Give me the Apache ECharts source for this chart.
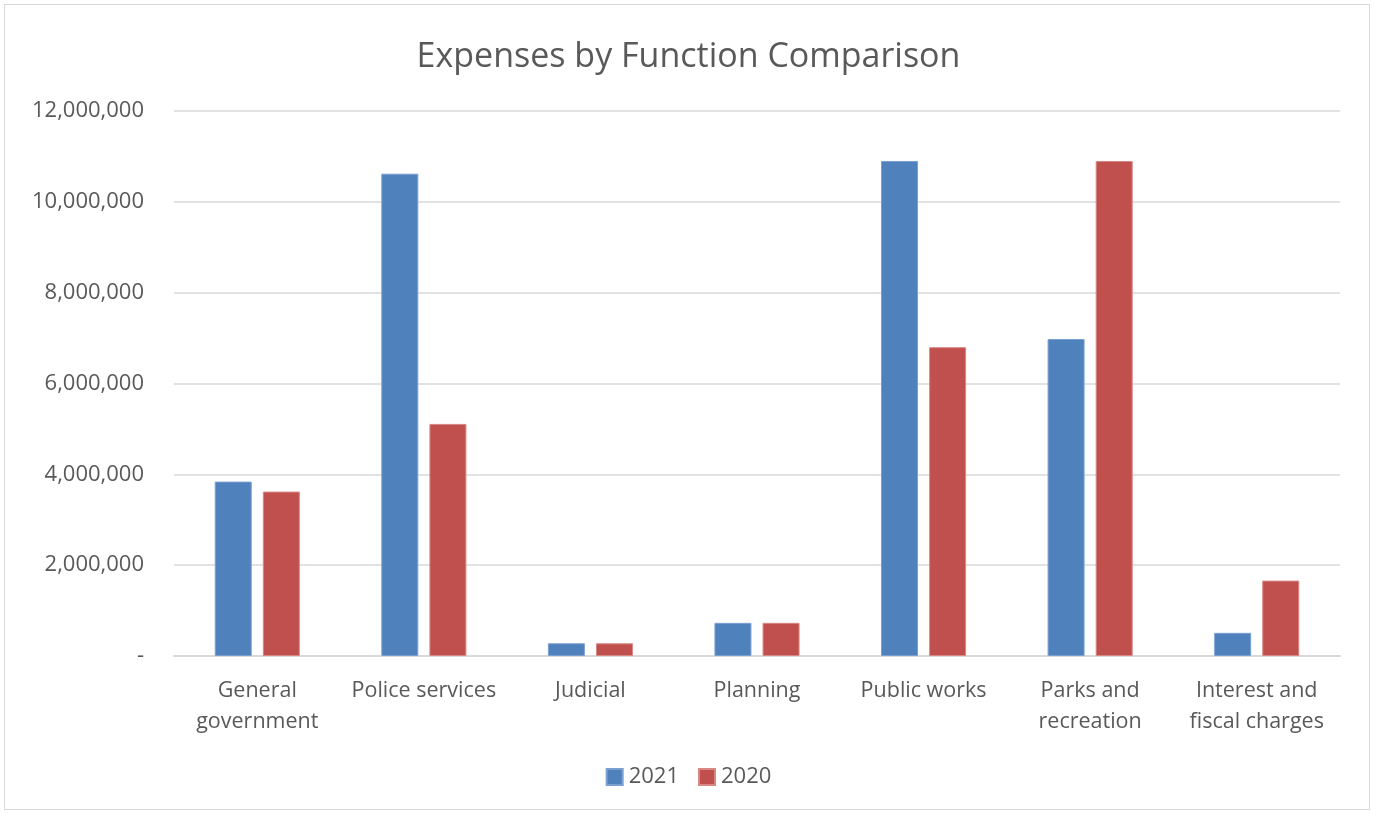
<!DOCTYPE html>
<html>
<head>
<meta charset="utf-8">
<script src="https://cdn.jsdelivr.net/npm/echarts@6/dist/echarts.min.js"></script>
<style>
html,body{margin:0;padding:0;background:#fff;}
#frame{position:absolute;left:4px;top:4px;width:1366px;height:806px;border:1px solid #d9d9d9;box-sizing:border-box;}
#chart{position:absolute;left:0;top:0;width:1377px;height:814px;}
</style>
</head>
<body>
<div id="frame"></div>
<div id="chart"></div>
<script>
const categories = ['General\ngovernment','Police services','Judicial','Planning','Public works','Parks and\nrecreation','Interest and\nfiscal charges'];
const values2021 = [3840000,10620000,280000,730000,10900000,6980000,510000];
const values2020 = [3620000,5110000,280000,730000,6800000,10900000,1660000];
const seriesNames = ['2021','2020'];

const chart = echarts.init(document.getElementById('chart'));
const font = 'Open Sans, Noto Sans, sans-serif';
chart.setOption({
  animation:false,
  title:{text:'Expenses by Function Comparison',left:'center',top:35,
    textStyle:{fontFamily:font,fontSize:34,fontWeight:'normal',color:'#595959'}},
  legend:{data:seriesNames,bottom:21,left:'center',itemWidth:16,itemHeight:16,itemGap:19,
    icon:'rect',textStyle:{fontFamily:font,fontSize:22,color:'#595959',padding:[0,0,0,1]}},
  grid:{left:174,right:37,top:111,bottom:158,containLabel:false},
  xAxis:{type:'category',data:categories,
    axisLine:{lineStyle:{color:'#d9d9d9',width:2}},axisTick:{show:false},
    axisLabel:{fontFamily:font,fontSize:21.5,color:'#595959',margin:19,lineHeight:31,interval:0}},
  yAxis:{type:'value',min:0,max:12000000,interval:2000000,
    axisLine:{show:false},axisTick:{show:false},
    splitLine:{lineStyle:{color:'#d9d9d9',width:1.5}},
    axisLabel:{fontFamily:font,fontSize:22,color:'#595959',margin:30,
      formatter:v=>v===0?'-':v.toLocaleString('en-US')}},
  series:[
    {name:seriesNames[0],type:'bar',data:values2021,barWidth:37,barGap:'30%',
      itemStyle:{color:'#4f81bd',borderColor:'#7ba0d0',borderWidth:1}},
    {name:seriesNames[1],type:'bar',data:values2020,barWidth:37,barGap:'30%',
      itemStyle:{color:'#c0504d',borderColor:'#d88785',borderWidth:1}}
  ]
});
</script>
</body>
</html>
